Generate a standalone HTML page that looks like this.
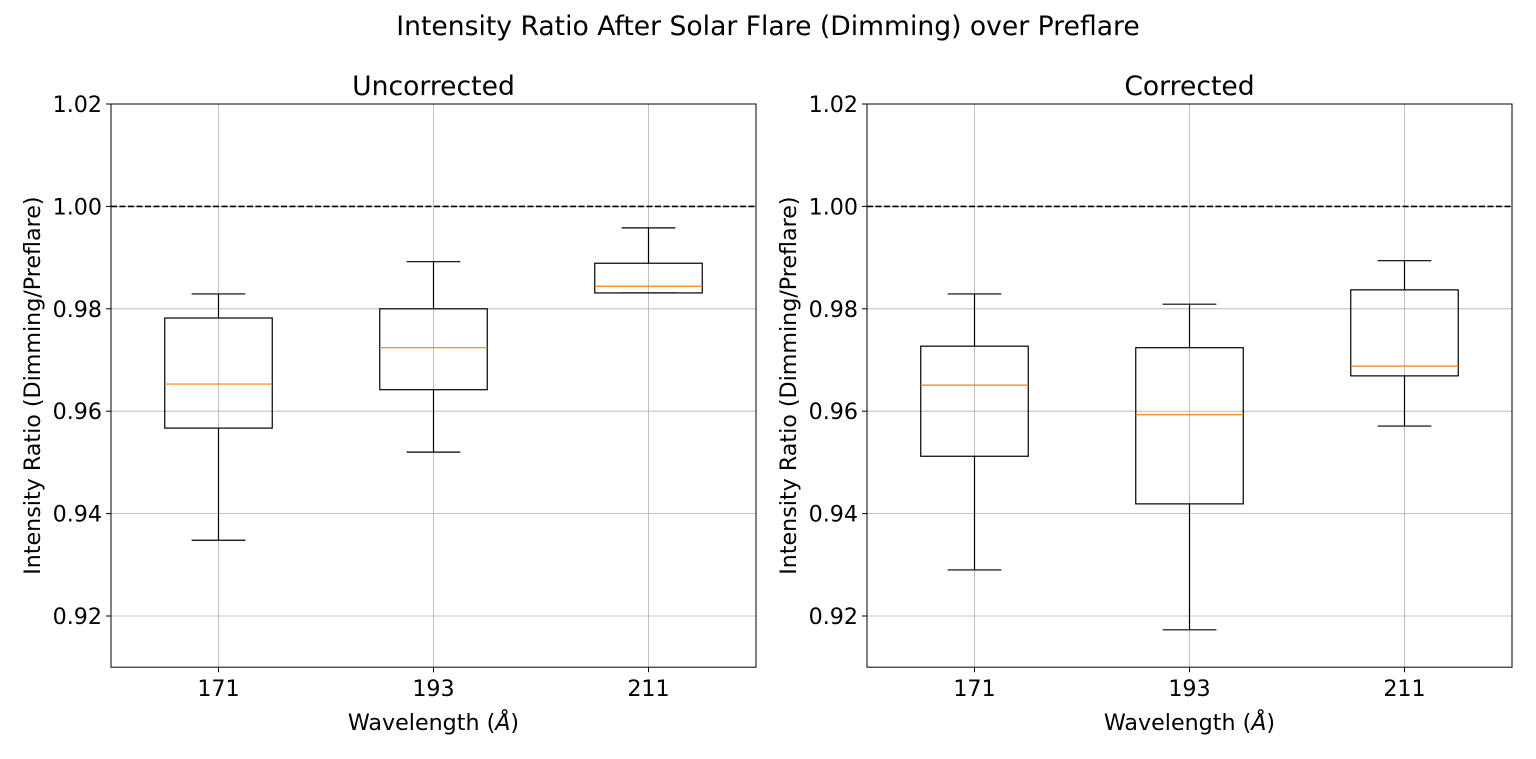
<!DOCTYPE html>
<html><head><meta charset="utf-8">
<style>
html,body{margin:0;padding:0;background:#fff;}
svg{display:block;font-family:"DejaVu Sans","Liberation Sans",sans-serif;}
</style></head>
<body>
<svg id="chart" width="1536" height="759" xmlns="http://www.w3.org/2000/svg">
<text x="768" y="35" text-anchor="middle" font-size="26.6">Intensity Ratio After Solar Flare (Dimming) over Preflare</text>
</svg>
<script>
const categories = ["171", "193", "211"];
const yTicks = [0.92, 0.94, 0.96, 0.98, 1.00, 1.02];
const panelTitles = ["Uncorrected", "Corrected"];
const uncorrLow = [0.9348, 0.9520, 0.9831];
const uncorrQ1 = [0.9567, 0.9642, 0.9831];
const uncorrMed = [0.9653, 0.9724, 0.9844];
const uncorrQ3 = [0.9782, 0.9800, 0.9889];
const uncorrHigh = [0.9829, 0.9892, 0.9958];
const corrLow = [0.9290, 0.9173, 0.9571];
const corrQ1 = [0.9512, 0.9419, 0.9669];
const corrMed = [0.9651, 0.9593, 0.9688];
const corrQ3 = [0.9727, 0.9724, 0.9837];
const corrHigh = [0.9829, 0.9809, 0.9894];
const refLine = 1.0;

const NS = "http://www.w3.org/2000/svg";
const svg = document.getElementById("chart");
function mk(tag, attrs, parent) {
  const e = document.createElementNS(NS, tag);
  for (const k in attrs) e.setAttribute(k, attrs[k]);
  (parent || svg).appendChild(e);
  return e;
}
const Y0 = 104, Y1 = 667.2, YMIN = 0.91, YMAX = 1.02;
function yS(v) { return Y1 - (v - YMIN) / (YMAX - YMIN) * (Y1 - Y0); }
const FS = 22.2;

const panels = [
  {x0: 111, x1: 756, data: [uncorrLow, uncorrQ1, uncorrMed, uncorrQ3, uncorrHigh]},
  {x0: 867, x1: 1512, data: [corrLow, corrQ1, corrMed, corrQ3, corrHigh]}
];
panels.forEach((p, pi) => {
  const g = mk("g", {});
  
  
  const w = p.x1 - p.x0;
  const xS = i => p.x0 + (i + 1 - 0.5) / 3 * w;
  const unit = w / 3;
  yTicks.forEach(t => {
    const y = yS(t);
    const gl = mk("line", {x1: p.x0, x2: p.x1, y1: y, y2: y, stroke: "#b0b0b0", "stroke-width": 0.8}, g);
    
    
    const tk = mk("line", {x1: p.x0 - 5, x2: p.x0, y1: y, y2: y, stroke: "#000"}, g);
    
    
    const tl = mk("text", {x: p.x0 - 9, y: y + 8, "text-anchor": "end", "font-size": FS}, g);
    tl.textContent = t.toFixed(2);
    
    
  });
  categories.forEach((c, i) => {
    const x = xS(i);
    const gl = mk("line", {x1: x, x2: x, y1: Y0, y2: Y1, stroke: "#b0b0b0", "stroke-width": 0.8}, g);
    
    
    const tk = mk("line", {x1: x, x2: x, y1: Y1, y2: Y1 + 5, stroke: "#000"}, g);
    
    
    const tl = mk("text", {x: x, y: Y1 + 29, "text-anchor": "middle", "font-size": FS}, g);
    tl.textContent = c;
    
    
  });
  const rl = mk("line", {x1: p.x0, x2: p.x1, y1: yS(refLine), y2: yS(refLine), stroke: "#000", "stroke-width": 1.6, "stroke-dasharray": "6,2.5"}, g);
  
  
  const [lo, q1, med, q3, hi] = p.data;
  categories.forEach((c, i) => {
    const x = xS(i), bw = unit * 0.25, cw = unit * 0.125;
    const bg = mk("g", {}, g);
    
    
    mk("line", {x1: x, x2: x, y1: yS(lo[i]), y2: yS(q1[i]), stroke: "#000", "stroke-width": 1.2}, bg);
    mk("line", {x1: x, x2: x, y1: yS(q3[i]), y2: yS(hi[i]), stroke: "#000", "stroke-width": 1.2}, bg);
    mk("line", {x1: x - cw, x2: x + cw, y1: yS(lo[i]), y2: yS(lo[i]), stroke: "#000", "stroke-width": 1.2}, bg);
    mk("line", {x1: x - cw, x2: x + cw, y1: yS(hi[i]), y2: yS(hi[i]), stroke: "#000", "stroke-width": 1.2}, bg);
    mk("rect", {x: x - bw, y: yS(q3[i]), width: 2 * bw, height: yS(q1[i]) - yS(q3[i]), fill: "none", stroke: "#000", "stroke-width": 1.2}, bg);
    const m = mk("line", {x1: x - bw, x2: x + bw, y1: yS(med[i]), y2: yS(med[i]), stroke: "#ff7f0e", "stroke-width": 1.2}, bg);
    
    
  });
  const fr = mk("rect", {x: p.x0, y: Y0, width: w, height: Y1 - Y0, fill: "none", stroke: "#000", "stroke-width": 1}, g);
  
  
  const tt = mk("text", {x: p.x0 + w / 2, y: 95, "text-anchor": "middle", "font-size": 26.6}, g);
  tt.textContent = panelTitles[pi];
  
  
  const xt = mk("text", {x: p.x0 + w / 2, y: 730, "text-anchor": "middle", "font-size": FS}, g);
  xt.innerHTML = 'Wavelength (<tspan font-style="italic">Å</tspan>)';
  
  
  const yt = mk("text", {x: 0, y: 0, "text-anchor": "middle", "font-size": FS, transform: "translate(" + (p.x0 - 71) + "," + ((Y0 + Y1) / 2) + ") rotate(-90)"}, g);
  yt.textContent = "Intensity Ratio (Dimming/Preflare)";
  
  
});
</script>
</body></html>
